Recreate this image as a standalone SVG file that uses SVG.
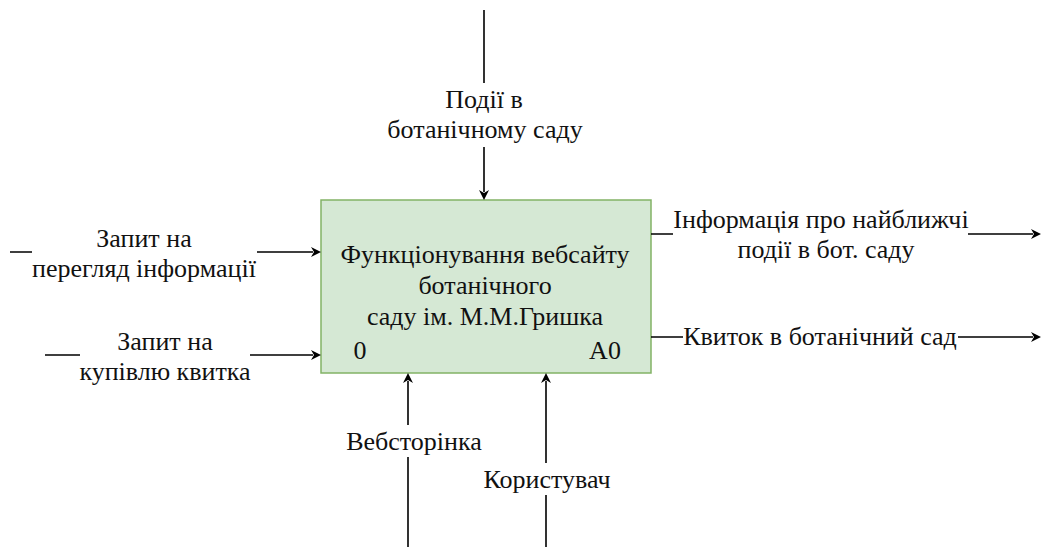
<svg xmlns="http://www.w3.org/2000/svg" width="1047" height="547" viewBox="0 0 1047 547">
<rect width="1047" height="547" fill="#fff"/>
<g id="A0">
<rect x="321" y="200" width="330" height="173" fill="#d5e8d4" stroke="#82b366" stroke-width="1.5"/>
<text x="485" y="263" font-family="Liberation Serif" font-size="26" fill="#111" text-anchor="middle">Функціонування вебсайту</text>
<text x="485" y="294" font-family="Liberation Serif" font-size="26" fill="#111" text-anchor="middle">ботанічного</text>
<text x="485" y="325" font-family="Liberation Serif" font-size="26" fill="#111" text-anchor="middle">саду ім. М.М.Гришка</text>
<text x="360" y="359" font-family="Liberation Serif" font-size="26" fill="#111" text-anchor="middle">0</text>
<text x="605" y="359" font-family="Liberation Serif" font-size="26" fill="#111" text-anchor="middle">A0</text>
</g>
<g id="connectors" stroke="#000" stroke-width="1.6" fill="none">
<path d="M484,10V83M484,147V192"/>
<path d="M10,252H32M257,252H313"/>
<path d="M45,355H80M250,355H313"/>
<path d="M651,234H673M968,234H1033"/>
<path d="M651,337H683M958,337H1033"/>
<path d="M408,547V457M408,425V381"/>
<path d="M546,547V495M546,463V381"/>
</g>
<g id="arrowheads" fill="#000">
<path d="M484,200l-5,-10l5,3l5,-3z"/>
<path d="M321,252l-10,-5l3,5l-3,5z"/>
<path d="M321,355l-10,-5l3,5l-3,5z"/>
<path d="M1041,234l-10,-5l3,5l-3,5z"/>
<path d="M1041,337l-10,-5l3,5l-3,5z"/>
<path d="M408,373l-5,10l5,-3l5,3z"/>
<path d="M546,373l-5,10l5,-3l5,3z"/>
</g>
<g id="lbl-top">
<text x="484" y="108" font-family="Liberation Serif" font-size="26" fill="#111" text-anchor="middle">Події в</text>
<text x="485" y="138" font-family="Liberation Serif" font-size="26" fill="#111" text-anchor="middle">ботанічному саду</text>
</g>
<g id="lbl-in1">
<text x="144" y="247" font-family="Liberation Serif" font-size="26" fill="#111" text-anchor="middle">Запит на</text>
<text x="144" y="277" font-family="Liberation Serif" font-size="26" fill="#111" text-anchor="middle">перегляд інформації</text>
</g>
<g id="lbl-in2">
<text x="165" y="350" font-family="Liberation Serif" font-size="26" fill="#111" text-anchor="middle">Запит на</text>
<text x="165" y="380" font-family="Liberation Serif" font-size="26" fill="#111" text-anchor="middle">купівлю квитка</text>
</g>
<g id="lbl-out1">
<text x="821" y="228" font-family="Liberation Serif" font-size="26" fill="#111" text-anchor="middle">Інформація про найближчі</text>
<text x="826" y="258" font-family="Liberation Serif" font-size="26" fill="#111" text-anchor="middle">події в бот. саду</text>
</g>
<g id="lbl-out2">
<text x="820" y="345" font-family="Liberation Serif" font-size="26" fill="#111" text-anchor="middle">Квиток в ботанічний сад</text>
</g>
<g id="lbl-mech1">
<text x="414" y="450" font-family="Liberation Serif" font-size="26" fill="#111" text-anchor="middle">Вебсторінка</text>
</g>
<g id="lbl-mech2">
<text x="547" y="488" font-family="Liberation Serif" font-size="26" fill="#111" text-anchor="middle">Користувач</text>
</g>
</svg>
